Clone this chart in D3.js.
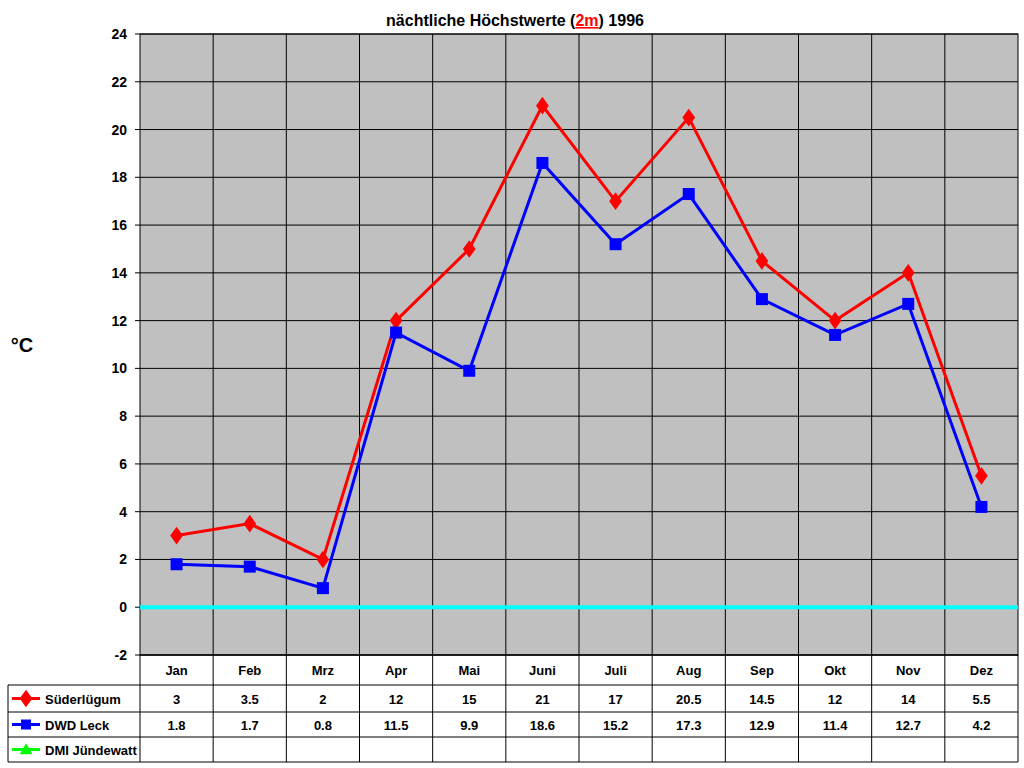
<!DOCTYPE html>
<html><head><meta charset="utf-8">
<script src="https://cdn.jsdelivr.net/npm/d3@7"></script>
<style>body{margin:0;background:#fff}</style>
</head><body>
<svg id="c" width="1024" height="768"></svg>
<script>
const months = ["Jan","Feb","Mrz","Apr","Mai","Juni","Juli","Aug","Sep","Okt","Nov","Dez"];
const suederluegum = [3,3.5,2,12,15,21,17,20.5,14.5,12,14,5.5];
const dwdLeck = [1.8,1.7,0.8,11.5,9.9,18.6,15.2,17.3,12.9,11.4,12.7,4.2];
const dmiJuendewatt = [];
const yTicks = [-2,0,2,4,6,8,10,12,14,16,18,20,22,24];
const seriesNames = ["Süderlügum","DWD Leck","DMI Jündewatt"];

const svg = d3.select("#c");
const L=140, R=1018, T=34, B=655;
const x = d3.scaleBand().domain(months).range([L,R]);
const y = d3.scaleLinear().domain([-2,24]).range([B,T]);
const font="Arial, 'Liberation Sans', sans-serif";

svg.append("rect").attr("x",L).attr("y",T).attr("width",R-L).attr("height",B-T).attr("fill","#c0c0c0");
// grid
svg.selectAll(".hg").data(yTicks).enter().append("line")
 .attr("x1",L).attr("x2",R).attr("y1",d=>y(d)).attr("y2",d=>y(d)).attr("stroke","#000").attr("stroke-width",1);
svg.selectAll(".vg").data(months.slice(1)).enter().append("line")
 .attr("x1",d=>x(d)).attr("x2",d=>x(d)).attr("y1",T).attr("y2",B).attr("stroke","#000");
svg.append("rect").attr("x",L).attr("y",T).attr("width",R-L).attr("height",B-T).attr("fill","none").attr("stroke","#000");
// zero line
svg.append("line").attr("x1",L).attr("x2",R).attr("y1",y(0)).attr("y2",y(0)).attr("stroke","#00ffff").attr("stroke-width",4);
// y axis labels
svg.selectAll(".yl").data(yTicks).enter().append("text")
 .attr("x",L-13).attr("y",d=>y(d)+5).attr("text-anchor","end").attr("font-family",font).attr("font-weight","bold").attr("font-size",14).text(d=>d);
svg.selectAll(".yt").data(yTicks).enter().append("line")
 .attr("x1",L-5).attr("x2",L).attr("y1",d=>y(d)).attr("y2",d=>y(d)).attr("stroke","#000");
svg.append("text").attr("x",22).attr("y",352).attr("text-anchor","middle").attr("font-family",font).attr("font-weight","bold").attr("font-size",20).text("°C");
// title
const t=svg.append("text").attr("x",515).attr("y",26).attr("text-anchor","middle").attr("font-family",font).attr("font-weight","bold").attr("font-size",16);
t.append("tspan").text("nächtliche Höchstwerte (");
t.append("tspan").attr("fill","#ff0000").attr("text-decoration","underline").text("2m");
t.append("tspan").text(") 1996");

const cx=d=>x(d)+x.bandwidth()/2;
const line=d3.line().x((d,i)=>cx(months[i])).y(d=>y(d));
svg.append("path").datum(suederluegum).attr("d",line).attr("fill","none").attr("stroke","#ff0000").attr("stroke-width",3);
svg.append("path").datum(dwdLeck).attr("d",line).attr("fill","none").attr("stroke","#0000ff").attr("stroke-width",3);
const diamond=d3.symbol().type(d3.symbolDiamond).size(90);
svg.selectAll(".m1").data(suederluegum).enter().append("path").attr("d",diamond)
 .attr("transform",(d,i)=>`translate(${cx(months[i])},${y(d)}) scale(1.25,1)`).attr("fill","#ff0000");
svg.selectAll(".m2").data(dwdLeck).enter().append("rect")
 .attr("x",(d,i)=>cx(months[i])-6).attr("y",d=>y(d)-6).attr("width",12).attr("height",12).attr("fill","#0000ff");

// table
const rows=[B,685,712,737,762];
const tl=8;
rows.forEach(r=>svg.append("line").attr("x1",r===B?L:tl).attr("x2",R).attr("y1",r).attr("y2",r).attr("stroke","#000"));
svg.append("line").attr("x1",tl).attr("x2",tl).attr("y1",685).attr("y2",762).attr("stroke","#000");
[L,...months.slice(1).map(m=>x(m)),R].forEach(v=>svg.append("line").attr("x1",v).attr("x2",v).attr("y1",B).attr("y2",762).attr("stroke","#000"));
svg.selectAll(".ml").data(months).enter().append("text").attr("x",cx).attr("y",675).attr("text-anchor","middle")
 .attr("font-family",font).attr("font-weight","bold").attr("font-size",13).text(d=>d);
const data=[suederluegum,dwdLeck,dmiJuendewatt];
const cols=["#ff0000","#0000ff","#00ff00"];
data.forEach((arr,k)=>{
  const ry=(rows[k+1]+rows[k+2])/2;
  svg.append("line").attr("x1",12).attr("x2",40).attr("y1",ry).attr("y2",ry).attr("stroke",cols[k]).attr("stroke-width",3);
  if(k===0) svg.append("path").attr("d",diamond).attr("transform",`translate(26,${ry}) scale(1.25,1)`).attr("fill",cols[k]);
  if(k===1) svg.append("rect").attr("x",21).attr("y",ry-5).attr("width",10).attr("height",10).attr("fill",cols[k]);
  if(k===2) svg.append("path").attr("d",d3.symbol().type(d3.symbolTriangle).size(70)).attr("transform",`translate(26,${ry+1})`).attr("fill",cols[k]);
  svg.append("text").attr("x",45).attr("y",ry+5).attr("font-family",font).attr("font-weight","bold").attr("font-size",13).text(seriesNames[k]);
  svg.selectAll(null).data(arr).enter().append("text").attr("x",(d,i)=>cx(months[i])).attr("y",ry+5).attr("text-anchor","middle")
   .attr("font-family",font).attr("font-weight","bold").attr("font-size",13).text(d=>d);
});
</script>
</body></html>
